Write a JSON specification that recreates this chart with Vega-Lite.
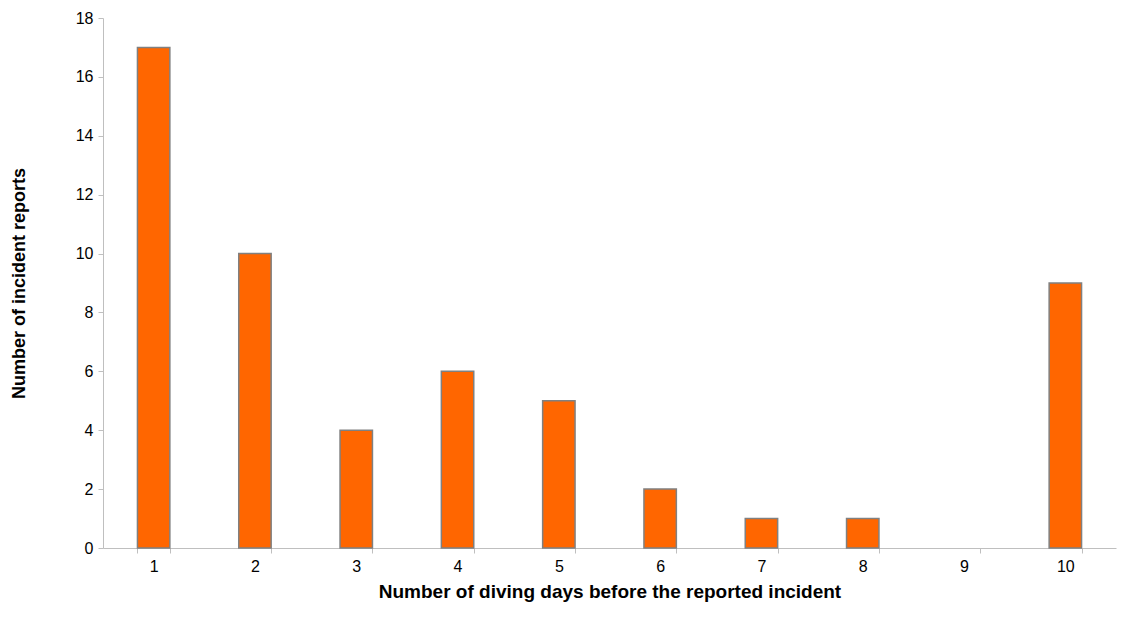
{
  "$schema": "https://vega.github.io/schema/vega-lite/v6.json",
  "width": 1013,
  "height": 530,
  "autosize": {"type": "none"},
  "padding": {"left": 103, "top": 18, "right": 10, "bottom": 84},
  "background": "white",
  "config": {"view": {"stroke": null}, "font": "Liberation Sans"},
  "data": {"values": [
    {"days": "1", "reports": 17},
    {"days": "2", "reports": 10},
    {"days": "3", "reports": 4},
    {"days": "4", "reports": 6},
    {"days": "5", "reports": 5},
    {"days": "6", "reports": 2},
    {"days": "7", "reports": 1},
    {"days": "8", "reports": 1},
    {"days": "9", "reports": 0},
    {"days": "10", "reports": 9}
  ]},
  "mark": {"type": "bar", "color": "#FF6600", "strokeWidth": 1.5},
  "encoding": {
    "x": {
      "field": "days", "type": "ordinal", "sort": null,
      "scale": {"paddingInner": 0.68, "paddingOuter": 0.34},
      "axis": {
        "title": "Number of diving days before the reported incident",
        "titleFontSize": 19, "titleFontWeight": "bold", "titleColor": "black",
        "titlePadding": 8,
        "labelAngle": 0, "labelFontSize": 16, "labelColor": "black", "labelPadding": 5,
        "tickBand": "extent", "tickSize": 5, "tickColor": "#bfbfbf",
        "domainColor": "#bfbfbf", "grid": false
      }
    },
    "y": {
      "field": "reports", "type": "quantitative",
      "scale": {"domain": [0, 18], "nice": false},
      "axis": {
        "title": "Number of incident reports",
        "titleFontSize": 18, "titleFontWeight": "bold", "titleColor": "black",
        "titlePadding": 47,
        "values": [0, 2, 4, 6, 8, 10, 12, 14, 16, 18],
        "labelFontSize": 16, "labelColor": "black", "labelPadding": 5,
        "tickSize": 5, "tickColor": "#bfbfbf",
        "domainColor": "#bfbfbf", "grid": false
      }
    },
    "stroke": {
      "condition": {"test": "datum.reports > 0", "value": "#808080"},
      "value": null
    }
  }
}
